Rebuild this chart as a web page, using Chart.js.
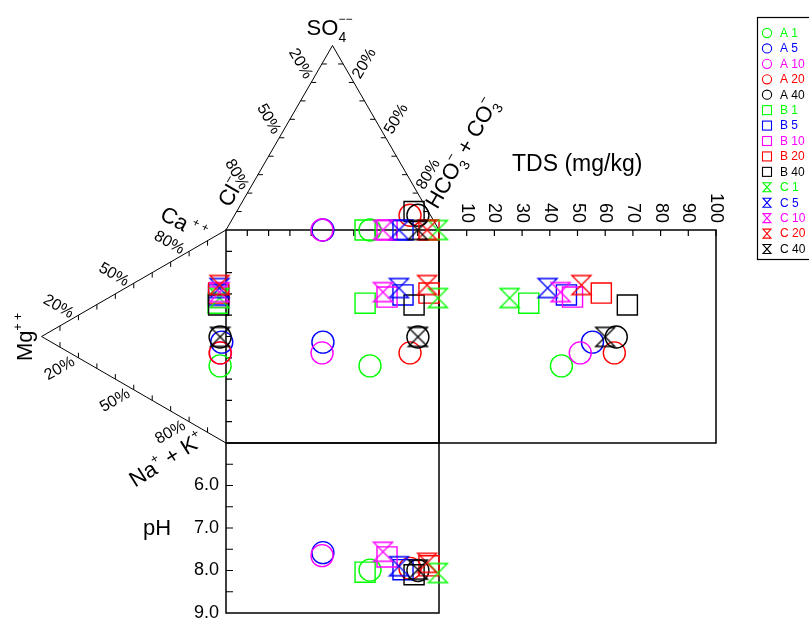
<!DOCTYPE html>
<html lang="en">
<head>
<meta charset="UTF-8" />
<title>Durov diagram</title>
<script src="https://cdn.jsdelivr.net/npm/chart.js@4.4.1/dist/chart.umd.min.js"></script>
<style>
  body { margin: 0; background: #ffffff; }
  #wrap { width: 809px; height: 618px; }
</style>
</head>
<body>
<div id="wrap"><canvas id="durov" width="809" height="618"></canvas></div>
<script>
// ---- data (meq %, TDS, pH) ----
const sampleNames = ["A 1", "A 5", "A 10", "A 20", "A 40", "B 1", "B 5", "B 10", "B 20", "B 40", "C 1", "C 5", "C 10", "C 20", "C 40"];
const caPct   = [34.6, 46.2, 40.8, 40.7, 48.2, 63.5, 67.5, 66.5, 68.4, 62.8, 66.3, 71.0, 69.1, 72.4, 48.2];
const mgPct   = [3.2, 2.3, 3.0, 3.2, 3.2, 4.3, 4.0, 4.0, 4.0, 4.0, 3.5, 3.5, 3.5, 3.5, 3.2];
const hco3Pct = [67.6, 45.5, 45.1, 82.4, 86.1, 65.3, 83.1, 75.6, 95.3, 83.3, 99.5, 81.2, 73.7, 94.4, 90.1];
const so4Pct  = [0, 0, 0, 8, 8, 0, 0, 0, 0, 10, 0, 0, 0, 0, 0];
const tdsValues = [44.2, 55.4, 51.0, 63.3, 64.0, 32.4, 46.0, 48.2, 58.6, 68.0, 25.5, 39.2, 43.9, 51.4, 60.0];
const phValues  = [7.99, 7.58, 7.65, 7.95, 8.0, 8.04, 7.98, 7.68, 7.89, 8.1, 8.06, 7.9, 7.56, 7.82, 7.98];

const tdsTicks = [10, 20, 30, 40, 50, 60, 70, 80, 90, 100];
const phTicks = [6, 7, 8, 9];
const phMinor = [5.5, 6, 6.5, 7, 7.5, 8, 8.5];
const ternaryLabels = [20, 50, 80];

const groupColors = ["#00ff00", "#0000ff", "#ff00ff", "#ff0000", "#000000"];
const groupShapes = { A: "circle", B: "rect", C: "hourglass" };

// ---- layout ----
const W = 809, H = 618;
const SQ_LEFT = 226, SQ_TOP = 230, SQ_SIZE = 213;
const SQ_BOTTOM = SQ_TOP + SQ_SIZE;
const PX = SQ_SIZE / 100;
const TDS_LEFT = SQ_LEFT + SQ_SIZE, TDS_RIGHT = 716, TDS_MAX = 100;
const PH_TOP = 5, PH_BOTTOM = 9, PH_PX_BOTTOM = 613;
const H3 = Math.sqrt(3) / 2;
const FONT = 'Arial, "Liberation Sans", sans-serif';

const pxPerTds = (TDS_RIGHT - TDS_LEFT) / TDS_MAX;
const pxPerPh = (PH_PX_BOTTOM - SQ_BOTTOM) / (PH_BOTTOM - PH_TOP);

function hourglassImage(color, size, lw) {
  const pad = 2;
  const c = document.createElement("canvas");
  c.width = c.height = size + pad * 2;
  const g = c.getContext("2d");
  g.strokeStyle = color;
  g.lineWidth = lw;
  const a = pad, b = pad + size;
  g.beginPath();
  g.moveTo(a, a); g.lineTo(b, a); g.lineTo(a, b); g.lineTo(b, b);
  g.closePath();
  g.stroke();
  return c;
}

function markerStyle(i) {
  const color = groupColors[i % 5];
  const shape = groupShapes[sampleNames[i][0]];
  const st = {
    borderColor: color,
    backgroundColor: "rgba(0,0,0,0)",
    borderWidth: 1.4,
    showLine: false,
    order: 100 - i, // later samples are drawn on top
  };
  if (shape === "circle") { st.pointStyle = "circle"; st.pointRadius = 11; }
  else if (shape === "rect") { st.pointStyle = "rect"; st.pointRadius = 14.2; }
  else { st.pointStyle = hourglassImage(color, 19, 1.4); st.pointRadius = 10; }
  return st;
}

// ---- datasets: ternary + square points, TDS panel, pH panel ----
const datasets = [];
sampleNames.forEach((name, i) => {
  const catU = -mgPct[i] * H3;
  const catV = caPct[i] + mgPct[i] / 2;
  const anU = hco3Pct[i] + so4Pct[i] / 2;
  const anV = 100 + so4Pct[i] * H3;
  const st = markerStyle(i);
  datasets.push(Object.assign({ label: name, xAxisID: "x", yAxisID: "y",
    data: [{ x: catU, y: catV }, { x: anU, y: anV }, { x: anU, y: catV }] }, st));
  datasets.push(Object.assign({ label: name, xAxisID: "xTds", yAxisID: "y",
    data: [{ x: tdsValues[i], y: catV }] }, st));
  datasets.push(Object.assign({ label: name, xAxisID: "x", yAxisID: "yPh",
    data: [{ x: anU, y: phValues[i] }] }, st));
});

// rich text: parts {t, s, dy, stack}; (x,y) is the centre of the main text line
function richText(ctx, parts, x, y, angle, align, color) {
  ctx.save();
  ctx.translate(x, y);
  ctx.rotate(angle * Math.PI / 180);
  ctx.fillStyle = color || "#000";
  ctx.textAlign = "left";
  ctx.textBaseline = "alphabetic";
  let cx = 0, prevX = 0;
  const placed = parts.map((p) => {
    ctx.font = p.s + "px " + FONT;
    const w = ctx.measureText(p.t).width;
    const start = p.stack ? prevX : cx;
    prevX = start;
    cx = Math.max(cx, start + w);
    return { p, start };
  });
  const off = align === "center" ? -cx / 2 : align === "right" ? -cx : 0;
  const base = parts[0].s * 0.36;
  placed.forEach(({ p, start }) => {
    ctx.font = p.s + "px " + FONT;
    ctx.fillText(p.t, off + start, base + (p.dy || 0));
  });
  ctx.restore();
}

const durovFrame = {
  id: "durovFrame",
  beforeDatasetsDraw(chart) {
    const ctx = chart.ctx;
    const sx = chart.scales.x, sy = chart.scales.y;
    const sTds = chart.scales.xTds, sPh = chart.scales.yPh;
    const P = (u, v) => [sx.getPixelForValue(u), sy.getPixelForValue(v)];
    ctx.save();
    ctx.strokeStyle = "#000";

    // boxes
    const [x0, yTop] = P(0, 100);
    const [x1, yBot] = P(100, 0);
    const xT = sTds.getPixelForValue(TDS_MAX);
    const yP = sPh.getPixelForValue(PH_BOTTOM);
    ctx.lineWidth = 1.5;
    ctx.strokeRect(x0, yTop, x1 - x0, yBot - yTop);
    ctx.strokeRect(x1, yTop, xT - x1, yBot - yTop);
    ctx.strokeRect(x0, yBot, x1 - x0, yP - yBot);

    // square ticks
    ctx.lineWidth = 1.2;
    ctx.beginPath();
    for (let k = 10; k < 100; k += 10) {
      const [tx] = P(k, 100);
      ctx.moveTo(tx, yTop); ctx.lineTo(tx, yTop + 6);
      const [, ty] = P(0, k);
      ctx.moveTo(x0, ty); ctx.lineTo(x0 + 6, ty);
    }
    tdsTicks.forEach((t) => {
      const tx = sTds.getPixelForValue(t);
      ctx.moveTo(tx, yTop); ctx.lineTo(tx, yTop + 6);
    });
    phMinor.forEach((p) => {
      const ty = sPh.getPixelForValue(p);
      ctx.moveTo(x0, ty); ctx.lineTo(x0 + 7, ty);
    });
    ctx.stroke();

    // tick labels
    ctx.fillStyle = "#000";
    ctx.font = "18px " + FONT;
    tdsTicks.forEach((t) => {
      const tx = sTds.getPixelForValue(t);
      ctx.save();
      ctx.translate(tx, yTop - 7);
      ctx.rotate(Math.PI / 2);
      ctx.textAlign = "right";
      ctx.textBaseline = "middle";
      ctx.fillText(String(t), 0, 0);
      ctx.restore();
    });
    ctx.textAlign = "right";
    ctx.textBaseline = "middle";
    phTicks.forEach((p) => {
      ctx.fillText(p.toFixed(1), x0 - 7, sPh.getPixelForValue(p));
    });

    // triangles
    const apex = P(50, 100 + 100 * H3);
    const cl = P(0, 100), hco3 = P(100, 100);
    const mg = P(-100 * H3, 50), ca = P(0, 100), nak = P(0, 0);
    ctx.lineWidth = 1;
    ctx.beginPath();
    ctx.moveTo(cl[0], cl[1]); ctx.lineTo(apex[0], apex[1]); ctx.lineTo(hco3[0], hco3[1]);
    ctx.moveTo(ca[0], ca[1]); ctx.lineTo(mg[0], mg[1]); ctx.lineTo(nak[0], nak[1]);
    ctx.stroke();

    const topC = [(cl[0] + apex[0] + hco3[0]) / 3, (cl[1] + apex[1] + hco3[1]) / 3];
    const leftC = [(mg[0] + ca[0] + nak[0]) / 3, (mg[1] + ca[1] + nak[1]) / 3];
    const sides = [
      { s: apex, e: cl, c: topC, tick: [1, 0], ang: 60 },
      { s: apex, e: hco3, c: topC, tick: [-1, 0], ang: -60 },
      { s: mg, e: ca, c: leftC, tick: [0, 1], ang: 30 },
      { s: mg, e: nak, c: leftC, tick: [0, -1], ang: -30 },
    ];
    ctx.beginPath();
    sides.forEach((sd) => {
      for (let f = 0.1; f < 0.95; f += 0.1) {
        const px = sd.s[0] + f * (sd.e[0] - sd.s[0]);
        const py = sd.s[1] + f * (sd.e[1] - sd.s[1]);
        ctx.moveTo(px, py); ctx.lineTo(px + sd.tick[0] * 5, py + sd.tick[1] * 5);
      }
    });
    ctx.stroke();
    sides.forEach((sd) => {
      const dx = sd.e[0] - sd.s[0], dy = sd.e[1] - sd.s[1];
      const len = Math.hypot(dx, dy);
      const d = [dx / len, dy / len];
      let n = [d[1], -d[0]];
      const mid = [sd.s[0] + dx / 2, sd.s[1] + dy / 2];
      if ((mid[0] - sd.c[0]) * n[0] + (mid[1] - sd.c[1]) * n[1] < 0) n = [-n[0], -n[1]];
      ternaryLabels.forEach((lab) => {
        const f = lab / 100;
        const lx = sd.s[0] + f * dx + 18 * n[0] - 12 * d[0];
        const ly = sd.s[1] + f * dy + 18 * n[1] - 12 * d[1];
        richText(ctx, [{ t: lab + "%", s: 16 }], lx, ly, sd.ang, "center");
      });
    });

    // axis titles
    richText(ctx, [{ t: "SO", s: 22 }, { t: "\u2212\u2212", s: 12, dy: -12 }, { t: "4", s: 14, dy: 7, stack: true }],
      apex[0] - 3, 27, 0, "center");
    richText(ctx, [{ t: "Cl", s: 22 }, { t: "\u2212", s: 13, dy: -11 }], 230, 192, -60, "center");
    richText(ctx, [{ t: "HCO", s: 22 }, { t: "3", s: 14, dy: 6 }, { t: "\u2212", s: 13, dy: -11, stack: true },
      { t: " + CO", s: 22 }, { t: "3", s: 14, dy: 6 }, { t: "\u2212", s: 13, dy: -11, stack: true }],
      461, 153, -60, "center");
    richText(ctx, [{ t: "Ca", s: 22 }, { t: " + +", s: 12, dy: -10 }], 184, 223, 28, "center");
    richText(ctx, [{ t: "Mg", s: 22 }, { t: "+ +", s: 12, dy: -10 }], 24, 337, -90, "center");
    richText(ctx, [{ t: "Na", s: 22 }, { t: "+", s: 13, dy: -10 }, { t: " + K", s: 22 }, { t: "+", s: 13, dy: -10 }],
      166, 459, -32, "center");
    richText(ctx, [{ t: "TDS (mg/kg)", s: 23 }], 512, 163, 0, "left");
    richText(ctx, [{ t: "pH", s: 22 }], 157, 527, 0, "center");
    ctx.restore();
  },
  afterDraw(chart) {
    const ctx = chart.ctx;
    ctx.save();
    ctx.strokeStyle = "#000";
    ctx.lineWidth = 1.2;
    ctx.strokeRect(757.5, 17.5, 60, 242);
    sampleNames.forEach((name, i) => {
      const y = 33 + i * 15.43;
      const color = groupColors[i % 5];
      const shape = groupShapes[name[0]];
      ctx.strokeStyle = color;
      ctx.lineWidth = 1.1;
      if (shape === "circle") {
        ctx.beginPath(); ctx.arc(767, y, 4.6, 0, Math.PI * 2); ctx.stroke();
      } else if (shape === "rect") {
        ctx.strokeRect(762.5, y - 4.5, 9, 9);
      } else {
        ctx.beginPath();
        ctx.moveTo(763, y - 4.5); ctx.lineTo(771, y - 4.5); ctx.lineTo(763, y + 4.5); ctx.lineTo(771, y + 4.5);
        ctx.closePath(); ctx.stroke();
      }
      ctx.fillStyle = color;
      ctx.font = "12px " + FONT;
      ctx.textAlign = "left";
      ctx.textBaseline = "middle";
      ctx.fillText(name, 780, y + 0.5);
    });
    ctx.restore();
  },
};

new Chart(document.getElementById("durov"), {
  type: "scatter",
  data: { datasets },
  options: {
    responsive: false,
    animation: false,
    events: [],
    layout: { padding: 0, autoPadding: false },
    plugins: { legend: { display: false }, tooltip: { enabled: false } },
    scales: {
      x: { type: "linear", display: false, min: -SQ_LEFT / PX, max: (W - SQ_LEFT) / PX },
      y: { type: "linear", display: false, min: (SQ_BOTTOM - H) / PX, max: SQ_BOTTOM / PX },
      xTds: { type: "linear", axis: "x", position: "bottom", display: false,
        min: -TDS_LEFT / pxPerTds, max: (W - TDS_LEFT) / pxPerTds },
      yPh: { type: "linear", axis: "y", position: "left", display: false, reverse: true,
        min: PH_TOP - SQ_BOTTOM / pxPerPh, max: PH_TOP + (H - SQ_BOTTOM) / pxPerPh },
    },
  },
  plugins: [durovFrame],
});
</script>
</body>
</html>
